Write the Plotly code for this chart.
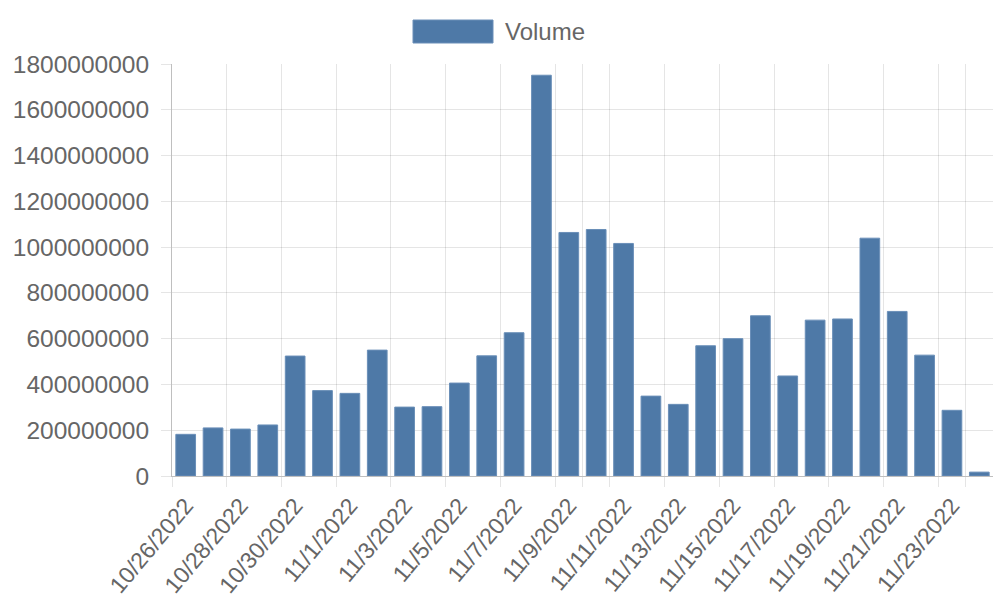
import plotly.graph_objects as go

dates = ["10/26/2022", "10/27/2022", "10/28/2022", "10/29/2022", "10/30/2022",
         "10/31/2022", "11/1/2022", "11/2/2022", "11/3/2022", "11/4/2022",
         "11/5/2022", "11/6/2022", "11/7/2022", "11/8/2022", "11/9/2022",
         "11/10/2022", "11/11/2022", "11/12/2022", "11/13/2022", "11/14/2022",
         "11/15/2022", "11/16/2022", "11/17/2022", "11/18/2022", "11/19/2022",
         "11/20/2022", "11/21/2022", "11/22/2022", "11/23/2022", "11/24/2022"]

volume = [182e6, 210e6, 205e6, 223e6, 524e6,
          373e6, 361e6, 550e6, 301e6, 303e6,
          406e6, 525e6, 626e6, 1751e6, 1064e6,
          1077e6, 1016e6, 349e6, 313e6, 569e6,
          600e6, 700e6, 437e6, 681e6, 686e6,
          1039e6, 719e6, 528e6, 287e6, 17e6]

tick_dates = ["10/26/2022", "10/28/2022", "10/30/2022", "11/1/2022", "11/3/2022",
              "11/5/2022", "11/7/2022", "11/9/2022", "11/10/2022", "11/11/2022",
              "11/13/2022", "11/15/2022", "11/17/2022", "11/19/2022", "11/21/2022",
              "11/23/2022"]
tick_text = [d if d != "11/10/2022" else "" for d in tick_dates]

y_ticks = [0, 200e6, 400e6, 600e6, 800e6, 1000e6, 1200e6, 1400e6, 1600e6, 1800e6]

bar_color = "#4e79a7"
font_family = "Liberation Sans, Arial, Helvetica, sans-serif"
text_color = "#666666"
grid_color = "rgba(0,0,0,0.1)"
axis_color = "rgba(0,0,0,0.25)"

fig = go.Figure()
fig.add_trace(go.Bar(
    x=dates, y=volume, name="Volume",
    marker=dict(color=bar_color, line=dict(color="#6a8fb8", width=1)),
    showlegend=False,
))

fig.update_layout(
    width=1000, height=600,
    margin=dict(l=172, r=7, t=64, b=124),
    paper_bgcolor="white", plot_bgcolor="white",
    bargap=0.28,
    font=dict(family=font_family, color=text_color, size=24.5),
    xaxis=dict(
        type="category",
        automargin=False,
        tickmode="array", tickvals=tick_dates, ticktext=tick_text,
        tickson="boundaries",
        tickangle=-50,
        showgrid=True, gridcolor=grid_color, gridwidth=1,
        ticks="outside", ticklen=10, tickcolor=grid_color,
        showline=True, linecolor=axis_color, linewidth=1,
        tickfont=dict(size=23, color=text_color),
        ticklabelstandoff=6,
    ),
    yaxis=dict(
        range=[0, 1800e6],
        automargin=False,
        tickmode="array", tickvals=y_ticks,
        ticktext=[str(int(v)) for v in y_ticks],
        showgrid=True, gridcolor=grid_color, gridwidth=1,
        zeroline=False,
        ticks="outside", ticklen=10, tickcolor=grid_color,
        showline=True, linecolor=axis_color, linewidth=1,
        tickfont=dict(size=24.5, color=text_color),
        ticklabelstandoff=7,
    ),
    shapes=[dict(type="rect", xref="paper", yref="paper",
                 x0=(413 - 172) / 821, x1=(493 - 172) / 821,
                 y0=(476 - 43) / 412, y1=(476 - 20) / 412,
                 fillcolor=bar_color, line=dict(color="#6a8fb8", width=1))],
    annotations=[dict(text="Volume", xref="paper", yref="paper",
                      x=(503 - 172) / 821, y=(476 - 31.5) / 412,
                      xanchor="left", yanchor="middle", showarrow=False,
                      font=dict(size=24, color=text_color, family=font_family))],
)

fig.write_html("out.html")
